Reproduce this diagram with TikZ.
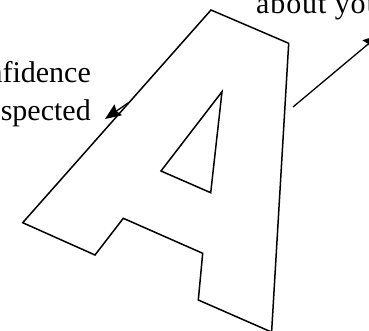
\documentclass[tikz,border=0pt]{standalone}
\usepackage{fontspec}
\setmainfont{Liberation Serif}
\usetikzlibrary{arrows.meta}

\tikzset{
  letter/.style={draw=black, line width=1.5pt, line join=miter, fill=white},
  callout/.style={font=\fontsize{30}{38}\selectfont, inner sep=0pt},
  pointer/.style={draw=black, line width=1.3pt, -{Stealth[length=16pt,width=13pt,inset=2pt]}}
}

\begin{document}
\begin{tikzpicture}[x=1pt, y=-1pt]
    \useasboundingbox (0,0) rectangle (369,331);
    \clip (0,0) rectangle (369,331);
    % letter A
    \draw[letter] (211,10) -- (288.7,43.3) -- (271.6,332.1) -- (198.3,300)
      -- (202.7,253.3) -- (123.3,218.3) -- (95,255) -- (22.7,222.7) -- cycle;
    \draw[letter] (222,91.7) -- (210.7,192.7) -- (161,171) -- cycle;
    % labels
    \node[callout, align=right, anchor=base east] (confidence) at (91,121)
      {Build confidence\\Feel respected};
    \node[callout, anchor=base west] (about) at (256,14)
      {\addfontfeature{LetterSpace=3}about you};
    % pointers
    \coordinate (aLeft) at (128,103);
    \coordinate (leftTip) at (105,119);
    \coordinate (aRight) at (293,107);
    \coordinate (rightTip) at (379,35);
    \draw[pointer] (aLeft) -- (leftTip);
    \draw[pointer] (aRight) -- (rightTip);
\end{tikzpicture}
\end{document}
